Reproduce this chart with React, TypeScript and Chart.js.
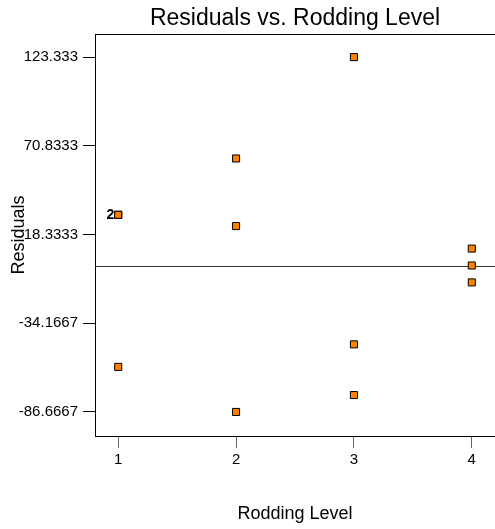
import React, { useEffect, useRef } from 'react';
import { Chart, registerables } from 'chart.js';

Chart.register(...registerables);

const chartTitle = 'Residuals vs. Rodding Level';
const xAxisTitle = 'Rodding Level';
const yAxisTitle = 'Residuals';

const roddingLevels = [1, 1, 1, 2, 2, 2, 3, 3, 3, 4, 4, 4];
const residuals = [30, 30, -60, 63.3333, 23.3333, -86.6667, 123.333, -46.6667, -76.6667, 10, 0, -10];

const xTickValues = [1, 2, 3, 4];
const yTickValues = [-86.6667, -34.1667, 18.3333, 70.8333, 123.333];
const yTickLabels = ['-86.6667', '-34.1667', '18.3333', '70.8333', '123.333'];

const xRange = [0.803, 4.197];
const yRange = [-100.9, 137.0];

const overlapLabels = [{ x: 1, y: 30, text: '2' }];
const referenceValue = 0;

const FONT = '"Liberation Sans", Arial, sans-serif';

const customPlugin = {
  id: 'customDecor',
  afterLayout(chart: any) {
    const tb = chart.titleBlock;
    if (tb) {
      tb.left = chart.chartArea.left;
      tb.right = chart.chartArea.right;
    }
  },
  beforeDatasetsDraw(chart: any) {
    const { ctx, chartArea, scales } = chart;
    ctx.save();
    const y0 = Math.round(scales.y.getPixelForValue(referenceValue)) + 0.5;
    ctx.strokeStyle = '#333';
    ctx.lineWidth = 1;
    ctx.beginPath();
    ctx.moveTo(chartArea.left, y0);
    ctx.lineTo(chartArea.right, y0);
    ctx.stroke();
    const yt = Math.round(chartArea.top) + 0.5;
    ctx.strokeStyle = '#000';
    ctx.beginPath();
    ctx.moveTo(chartArea.left, yt);
    ctx.lineTo(chartArea.right, yt);
    ctx.stroke();
    ctx.restore();
  },
  afterDatasetsDraw(chart: any) {
    const { ctx, scales } = chart;
    ctx.save();
    ctx.font = 'bold 14px ' + FONT;
    ctx.fillStyle = '#000';
    ctx.textAlign = 'right';
    ctx.textBaseline = 'middle';
    overlapLabels.forEach((l) => {
      const px = scales.x.getPixelForValue(l.x);
      const py = scales.y.getPixelForValue(l.y);
      ctx.fillText(l.text, px - 4, py);
    });
    ctx.restore();
  },
};

export default function App() {
  const ref = useRef<HTMLCanvasElement | null>(null);

  useEffect(() => {
    if (!ref.current) return;
    Chart.defaults.font.family = FONT;
    const chart = new Chart(ref.current, {
      type: 'scatter',
      data: {
        datasets: [
          {
            label: 'Residuals',
            data: roddingLevels.map((x, i) => ({ x, y: residuals[i] })),
            pointStyle: 'rect',
            pointRadius: 5,
            pointHoverRadius: 5,
            backgroundColor: '#ff8000',
            borderColor: '#000',
            borderWidth: 1,
          },
        ],
      },
      options: {
        animation: false,
        responsive: false,
        events: [],
        layout: { padding: 0, autoPadding: false },
        plugins: {
          legend: { display: false },
          tooltip: { enabled: false },
          title: {
            display: true,
            text: chartTitle,
            color: '#000',
            font: { size: 23, weight: 'normal', family: FONT },
            padding: { top: 5, bottom: 1.4 },
          },
        },
        scales: {
          x: {
            type: 'linear',
            min: xRange[0],
            max: xRange[1],
            afterBuildTicks: (s: any) => {
              s.ticks = xTickValues.map((v) => ({ value: v }));
            },
            afterFit: (s: any) => {
              s.height = 93;
              s.paddingLeft = 0;
              s.paddingRight = 0;
            },
            ticks: {
              color: '#000',
              font: { size: 15 },
              padding: 3,
              callback: (v: any) => String(v),
            },
            grid: { drawOnChartArea: false, drawTicks: true, tickLength: 12, color: '#666' },
            border: { display: true, color: '#000', width: 1 },
            title: {
              display: true,
              text: xAxisTitle,
              color: '#000',
              font: { size: 18 },
              padding: { top: 0, bottom: 4 },
            },
          },
          y: {
            type: 'linear',
            min: yRange[0],
            max: yRange[1],
            afterBuildTicks: (s: any) => {
              s.ticks = yTickValues.map((v) => ({ value: v }));
            },
            afterFit: (s: any) => {
              s.width = 95;
              s.paddingTop = 0;
              s.paddingBottom = 0;
            },
            ticks: {
              color: '#000',
              font: { size: 15 },
              padding: 5,
              autoSkip: false,
              callback: (v: any) => {
                const i = yTickValues.indexOf(v);
                return i >= 0 ? yTickLabels[i] : '';
              },
            },
            grid: { drawOnChartArea: false, drawTicks: true, tickLength: 12, color: '#000' },
            border: { display: true, color: '#000', width: 1 },
            title: {
              display: true,
              text: yAxisTitle,
              color: '#000',
              font: { size: 18 },
              padding: { top: 8, bottom: 0 },
            },
          },
        },
      },
      plugins: [customPlugin],
    } as any);
    return () => chart.destroy();
  }, []);

  return (
    <div style={{ position: 'fixed', left: 0, top: 0, width: 495, height: 529, background: '#fff' }}>
      <canvas ref={ref} width={495} height={529} />
    </div>
  );
}
